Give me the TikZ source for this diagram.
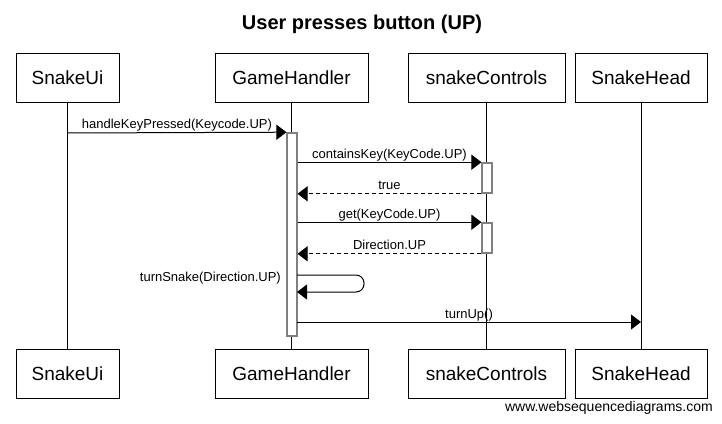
\documentclass[tikz,border=0pt]{standalone}
\usepackage{fontspec}
\setmainfont{Liberation Sans}
\usetikzlibrary{arrows.meta}
\definecolor{actgray}{RGB}{128,128,128}
\tikzset{
  actor/.style={draw=black, line width=1pt, fill=white, inner sep=0pt, font=\fontsize{19}{22}\selectfont},
  act/.style={draw=actgray, line width=1.6pt, fill=white, inner sep=0pt, minimum width=9.5pt},
  life/.style={line width=1pt, draw=black},
  msg/.style={line width=1pt, -{Triangle[length=10pt,width=15pt]}},
  ret/.style={msg, dash pattern=on 4pt off 3pt},
  lbl/.style={font=\fontsize{13}{15}\selectfont, anchor=base, inner sep=0pt, yshift=4pt},
}
\begin{document}
\begin{tikzpicture}[x=1pt, y=-1pt]
\useasboundingbox (0,0) rectangle (722,423);
% title
\node[anchor=base, inner sep=0pt, font=\fontsize{20}{24}\selectfont\bfseries] (title) at (362,29) {User presses button (UP)};
% actors top
\node[actor, minimum width=103pt, minimum height=49pt] (ui) at (67.5,77.5) {SnakeUi};
\node[actor, minimum width=153pt, minimum height=49pt] (gh) at (291.5,77.5) {GameHandler};
\node[actor, minimum width=157pt, minimum height=49pt] (sc) at (486.5,77.5) {snakeControls};
\node[actor, minimum width=132pt, minimum height=49pt] (sh) at (641,77.5) {SnakeHead};
% actors bottom
\node[actor, minimum width=103pt, minimum height=49pt] (uib) at (67.5,373.5) {SnakeUi};
\node[actor, minimum width=153pt, minimum height=49pt] (ghb) at (291.5,373.5) {GameHandler};
\node[actor, minimum width=157pt, minimum height=49pt] (scb) at (486.5,373.5) {snakeControls};
\node[actor, minimum width=132pt, minimum height=49pt] (shb) at (641,373.5) {SnakeHead};
% lifelines
\draw[life] (ui.south) -- (uib.north);
\draw[life] (gh.south) -- (ghb.north);
\draw[life] (sc.south) -- (scb.north);
\draw[life] (sh.south) -- (shb.north);
% activations
\node[act, minimum height=203pt] (gh1) at (292,234.5) {};
\node[act, minimum height=30pt] (sc1) at (487,178) {};
\node[act, minimum height=30pt] (sc2) at (487,238) {};
% messages
\coordinate (m1) at (67.5,133);
\draw[msg] (m1) -- (gh1.north west) node[lbl, midway] {handleKeyPressed(Keycode.UP)};
\draw[msg] (gh1.east |- sc1.north west) -- (sc1.north west) node[lbl, midway] {containsKey(KeyCode.UP)};
\draw[ret] (sc1.south west) -- (gh1.east |- sc1.south west) node[lbl, midway] {true};
\draw[msg] (gh1.east |- sc2.north west) -- (sc2.north west) node[lbl, midway] {get(KeyCode.UP)};
\draw[ret] (sc2.south west) -- (gh1.east |- sc2.south west) node[lbl, midway] {Direction.UP};
% self message
\coordinate (s1) at (297,275);
\coordinate (s2) at (297,292);
\draw[msg, rounded corners=8pt] (s1) -- (364,275) -- (364,292) -- (s2);
\node[font=\fontsize{13}{15}\selectfont, anchor=base east, inner sep=0pt] (tsl) at (281,281) {turnSnake(Direction.UP)};
% turnUp
\coordinate (t1) at (297,322);
\coordinate (t2) at (641,322);
\draw[msg] (t1) -- (t2) node[lbl, midway] {turnUp()};
% watermark
\node[font=\fontsize{14}{16}\selectfont, anchor=base east, inner sep=0pt] (wm) at (713,411) {www.websequencediagrams.com};
\end{tikzpicture}
\end{document}
